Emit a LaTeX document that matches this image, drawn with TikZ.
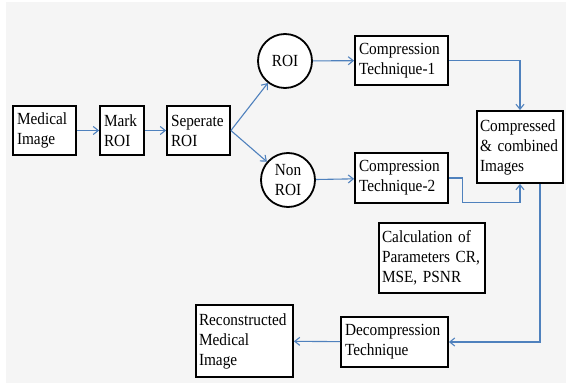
\documentclass[tikz,border=0pt]{standalone}
\usepackage{fontspec}
\setmainfont{Liberation Serif}[FakeStretch=0.9]
\usetikzlibrary{arrows.meta,calc}
\definecolor{flow}{RGB}{79,129,189}
\definecolor{paper}{RGB}{245,245,245}
\hyphenpenalty=10000
\exhyphenpenalty=10000
\tikzset{
  txt/.style={font=\fontsize{17pt}{20pt}\selectfont},
  box/.style={draw=black, line width=1.8pt, fill=white, align=left,
    inner xsep=4pt, inner ysep=2pt, anchor=center, txt},
  disc/.style={draw=black, line width=1.8pt, fill=white, circle, align=center,
    inner sep=0pt, minimum size=54pt, txt},
  link/.style={draw=flow, line width=1.1pt, -{Straight Barb[length=5pt,width=8pt]}},
}
\begin{document}
\begin{tikzpicture}[x=1pt,y=-1pt]
  \useasboundingbox (0,0) rectangle (566,385);
  \fill[paper] (6,2) rectangle (566,383);

  % input chain
  \node[box, minimum width=63pt, minimum height=49pt, text width=55pt] (med) at (44.5,130.5) {Medical\\Image};
  \node[box, minimum width=44pt, minimum height=49pt, text width=36pt] (mark) at (122,130.5) {Mark\\ROI};
  \node[box, minimum width=63pt, minimum height=49pt, text width=55pt] (sep) at (198.5,130.5) {Seperate\\ROI};

  % split regions
  \node[disc] (roi) at (285,61) {ROI};
  \node[disc] (nonroi) at (288,180) {Non\\ROI};

  % compression stage
  \node[box, minimum width=93pt, minimum height=49pt, text width=85pt] (ct1) at (401.5,60.5) {Compression\\Technique-1};
  \node[box, minimum width=93pt, minimum height=50pt, text width=85pt] (ct2) at (401.5,178) {Compression\\Technique-2};
  \node[box, minimum width=86pt, minimum height=72pt, text width=80pt, inner xsep=3pt] (comb) at (520,147) {Compressed\\\& combined\\Images};

  \node[box, minimum width=106pt, minimum height=70pt, text width=100pt, inner xsep=3pt] (calc) at (432,258) {Calculation of\\Parameters CR,\\MSE, PSNR};

  % decompression stage
  \node[box, minimum width=107pt, minimum height=50pt, text width=99pt] (dec) at (394.5,342) {Decompression\\Technique};
  \node[box, minimum width=97pt, minimum height=72pt, text width=91pt, inner xsep=3pt] (rec) at (244.5,341) {Reconstructed\\Medical\\Image};

  % connectors
  \draw[link] (med) -- (mark);
  \draw[link] (mark) -- (sep);
  \draw[link] (sep.east) -- (roi);
  \draw[link] (sep.east) -- (nonroi);
  \draw[link] (roi) -- (ct1);
  \draw[link] (nonroi) -- (ct2);
  \draw[link] (ct1.east) -| (comb.north);
  \coordinate (ct2turn) at ($(ct2.east)+(14,0)$);
  \draw[link] (ct2.east) -- (ct2turn) |- ($(comb.south)+(0,19)$) -- (comb.south);
  \coordinate (combout) at ($(comb.south)+(20,0)$);
  \draw[link] (combout) |- (dec.east);
  \draw[link] (dec) -- (rec);
\end{tikzpicture}
\end{document}
